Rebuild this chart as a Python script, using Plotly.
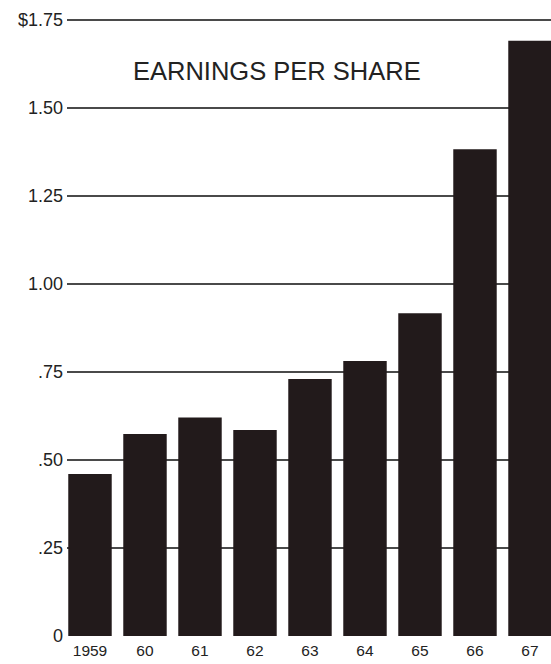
import plotly.graph_objects as go

# Earnings per share by year
years = ["1959", "60", "61", "62", "63", "64", "65", "66", "67"]
eps = [0.46, 0.574, 0.621, 0.585, 0.730, 0.781, 0.917, 1.383, 1.691]

tick_vals = [0, 0.25, 0.50, 0.75, 1.00, 1.25, 1.50, 1.75]
tick_text = ["0", ".25", ".50", ".75", "1.00", "1.25", "1.50", "$1.75"]

bar_color = "#221a1b"
grid_color = "#4a4a4a"
text_color = "#222222"
font_family = "Liberation Sans, Arial, sans-serif"

# plot area: y=0 at 636 px, 352 px per dollar, top margin 16 px
y_top = (636 - 16) / 352

fig = go.Figure(
    go.Bar(
        x=list(range(len(years))),
        y=eps,
        width=0.79,
        marker=dict(color=bar_color, line=dict(width=0)),
        hoverinfo="skip",
    )
)

fig.add_annotation(
    text="EARNINGS PER SHARE",
    xref="paper", yref="paper",
    x=(277 - 67) / (551 - 67), y=(636 - 71) / (636 - 16),
    xanchor="center", yanchor="middle",
    showarrow=False,
    font=dict(family=font_family, size=25.5, color=text_color),
)

fig.update_layout(
    width=551,
    height=664,
    margin=dict(l=67, r=0, t=16, b=28),
    paper_bgcolor="white",
    plot_bgcolor="white",
    showlegend=False,
    font=dict(family=font_family, color=text_color),
    xaxis=dict(
        range=[-0.418, 8.382],
        tickmode="array",
        tickvals=list(range(len(years))),
        ticktext=years,
        tickfont=dict(size=15.5, color=text_color),
        showgrid=False,
        showline=False,
        zeroline=False,
        ticks="",
        ticklabelstandoff=3,
        fixedrange=True,
    ),
    yaxis=dict(
        range=[0, y_top],
        tickmode="array",
        tickvals=tick_vals,
        ticktext=tick_text,
        tickfont=dict(size=18, color=text_color),
        showgrid=True,
        gridcolor=grid_color,
        gridwidth=1.5,
        zeroline=True,
        zerolinecolor="white",
        zerolinewidth=2,
        showline=False,
        ticks="",
        ticklabelstandoff=3,
        fixedrange=True,
    ),
)

fig.write_html("out.html")
